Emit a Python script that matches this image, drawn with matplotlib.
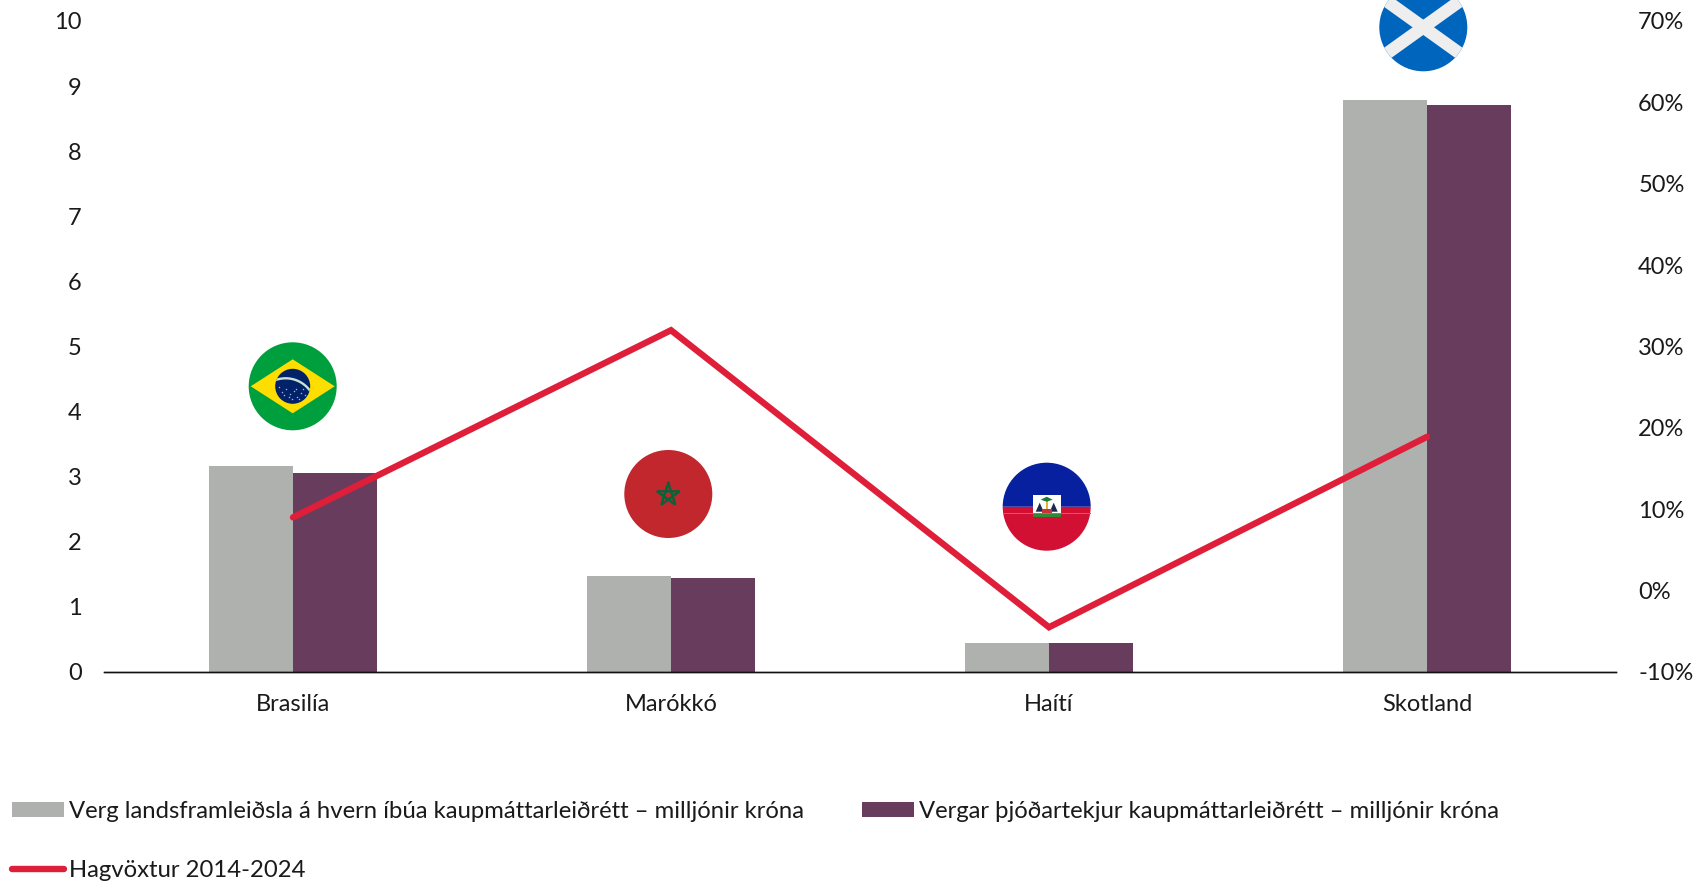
#!/usr/bin/env python3

import numpy as np

import matplotlib
matplotlib.use("Agg")

import matplotlib.pyplot as plt
from matplotlib.lines import Line2D
from matplotlib.patches import Circle, Patch, Polygon, Rectangle, Wedge

countries = ["Brasilía", "Marókkó", "Haítí", "Skotland"]
gdp_per_head = [3.17, 1.48, 0.44, 8.78]
national_income = [3.05, 1.45, 0.44, 8.71]
growth = [9.0, 32.0, -4.5, 18.9]

left_ticks = list(range(0, 11))
right_ticks = list(range(-10, 71, 10))
right_labels = [f"{v}%" for v in right_ticks]

gdp_label = "Verg landsframleiðsla á hvern íbúa kaupmáttarleiðrétt – milljónir króna"
income_label = "Vergar þjóðartekjur kaupmáttarleiðrétt – milljónir króna"
growth_label = "Hagvöxtur 2014-2024"

GREY = "#AFB1AE"
PURPLE = "#683C5C"
RED = "#DF1F3A"
TEXT = "#1A1A1A"

W, H = 1696, 881
FONT = 17
LEGEND_FONT = 17.2

plt.rcParams["font.family"] = ["Lato", "DejaVu Sans"]


def flag_brazil(ax, cx, cy, r):
    disc = Circle((cx, cy), r, fc="#009F3D", ec="none")
    ax.add_patch(disc)
    ax.add_patch(Polygon([(cx - 42, cy), (cx, cy - 27), (cx + 42, cy), (cx, cy + 27)], fc="#FEDD00", ec="none"))
    globe = Circle((cx, cy), 17.5, fc="#012169", ec="none")
    ax.add_patch(globe)
    a = np.linspace(-0.5, 1.0, 40)
    arc, = ax.plot(cx - 7 + 30 * np.sin(a), cy + 22 - 30 * np.cos(a), color="#C9E4D2", lw=1.7)
    arc.set_clip_path(globe)
    star_x = [-14, -11, -7, -3, 1, 4, 8, 12, -9, -1, 6, 3, -4, 10]
    star_y = [1, 6, 3, 8, 5, 11, 7, 9, 9, 13, 13, 3, 11, 3]
    ax.scatter([cx + v for v in star_x], [cy + v for v in star_y], s=1.2, color="#9FB4D6", lw=0)


def flag_morocco(ax, cx, cy, r):
    ax.add_patch(Circle((cx, cy), r, fc="#C1272D", ec="none"))
    a = np.deg2rad(-90 + 144 * np.arange(6))
    ax.plot(cx + 12 * np.cos(a), cy + 1 + 12 * np.sin(a), color="#0B6138", lw=1.7, solid_joinstyle="miter")


def flag_haiti(ax, cx, cy, r):
    # overlay y axis runs downwards, so wedge angles are mirrored
    ax.add_patch(Wedge((cx, cy), r, 0, 180, fc="#D21034", ec="none"))
    ax.add_patch(Wedge((cx, cy), r, 180, 360, fc="#06209F", ec="none"))
    ax.plot([cx - 43, cx + 43], [cy + 6.5, cy + 6.5], color="#EE5A35", lw=0.7)
    ax.add_patch(Rectangle((cx - 14, cy - 12), 28, 22.5, fc="white", ec="none"))
    ax.add_patch(Rectangle((cx - 14, cy + 6), 28, 4.5, fc="#2F8A36", ec="none"))
    ax.add_patch(Polygon([(cx - 11, cy + 5), (cx - 7, cy - 4), (cx - 3, cy + 5)], fc="#1D2A4F", ec="none"))
    ax.add_patch(Polygon([(cx + 11, cy + 5), (cx + 7, cy - 4), (cx + 3, cy + 5)], fc="#1D2A4F", ec="none"))
    ax.add_patch(Rectangle((cx - 1, cy - 7), 2, 12, fc="#E8B33A", ec="none"))
    ax.add_patch(Rectangle((cx - 5, cy + 2), 10, 4, fc="#C8323A", ec="none"))
    ax.add_patch(Polygon([(cx - 6, cy - 7), (cx, cy - 10), (cx + 6, cy - 7), (cx, cy - 5)], fc="#1E7B34", ec="none"))


def flag_scotland(ax, cx, cy, r):
    disc = Circle((cx, cy), r, fc="#0065BD", ec="none")
    ax.add_patch(disc)
    for sign in (-1, 1):
        bar, = ax.plot([cx - 60, cx + 60], [cy - sign * 43, cy + sign * 43], color="#EEEEEE", lw=9, solid_capstyle="butt")
        bar.set_clip_path(disc)


fig = plt.figure(figsize=(W / 100, H / 100), dpi=100)

ax = fig.add_axes([104 / W, 1 - 672 / H, 1512 / W, 651 / H])
ax2 = ax.twinx()

x = np.arange(len(countries))
bar_w = 0.223

ax.bar(x - bar_w / 2, gdp_per_head, bar_w, color=GREY)
ax.bar(x + bar_w / 2, national_income, bar_w, color=PURPLE)

ax.set_xlim(-0.5, len(countries) - 0.5)
ax.set_ylim(0, 10)
ax.set_yticks(left_ticks)
ax.set_xticks(x)
ax.set_xticklabels(countries)
ax.tick_params(axis="x", length=0, pad=15.5, labelsize=FONT, labelcolor=TEXT)
ax.tick_params(axis="y", length=0, pad=16, labelsize=FONT, labelcolor=TEXT)

ax2.plot(x, growth, color=RED, linewidth=4.6, solid_capstyle="round", solid_joinstyle="miter", clip_on=False)
ax2.set_ylim(-10, 70)
ax2.set_yticks(right_ticks)
ax2.set_yticklabels(right_labels)
ax2.tick_params(axis="y", length=0, pad=16, labelsize=FONT, labelcolor=TEXT)

for a in (ax, ax2):
    for side in ("top", "left", "right"):
        a.spines[side].set_visible(False)
    a.spines["bottom"].set_linewidth(1)
    a.spines["bottom"].set_color("#111111")

# flags sit on a full figure overlay measured in pixels
over = fig.add_axes([0, 0, 1, 1], zorder=5)
over.set_xlim(0, W)
over.set_ylim(H, 0)
over.axis("off")
over.patch.set_alpha(0)

flag_brazil(over, 292.7, 386.3, 44)
flag_morocco(over, 668.3, 494, 44)
flag_haiti(over, 1046.7, 506.7, 44)
flag_scotland(over, 1423.3, 27.3, 44)

handles = [
    Patch(fc=GREY, ec="none"),
    Line2D([0], [0], color=RED, lw=4.6, solid_capstyle="round"),
    Patch(fc=PURPLE, ec="none"),
]
labels = [gdp_label, growth_label, income_label]

fig.legend(
    handles, labels,
    ncol=2,
    loc="lower left",
    bbox_to_anchor=(12 / W, 1 - 881 / H),
    borderaxespad=0,
    borderpad=0,
    frameon=False,
    fontsize=LEGEND_FONT,
    labelcolor=TEXT,
    handlelength=2.17,
    handleheight=0.58,
    handletextpad=0.22,
    columnspacing=2.42,
    labelspacing=1.59,
)

fig.savefig("out.png", dpi=100)
plt.close(fig)
